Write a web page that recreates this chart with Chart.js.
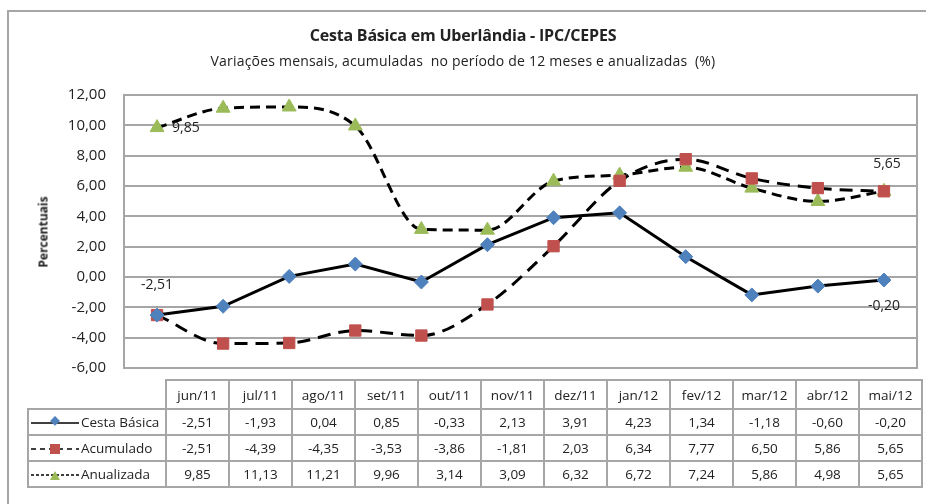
<!DOCTYPE html>
<html>
<head>
<meta charset="utf-8">
<script src="https://cdn.jsdelivr.net/npm/chart.js@4"></script>
<style>
  body { margin: 0; background: #fff; font-family: "Open Sans", sans-serif; color: #222; }
  #wrap { position: relative; width: 926px; height: 504px; overflow: hidden; }
  #frame { position: absolute; left: 7px; top: 10px; width: 940px; height: 520px; border: 2px solid #a6a6a6; box-sizing: border-box; }
  canvas { position: absolute; left: 0; top: 0; }
  .title { position: absolute; left: 0; width: 926px; text-align: center; }
  #t1 { top: 24px; font-size: 16px; font-weight: bold; letter-spacing: -0.2px; }
  #t2 { top: 51px; font-size: 14px; letter-spacing: 0.2px; }
  #ytitle { position: absolute; left: 43px; top: 232px; transform: translate(-50%, -50%) rotate(-90deg); font-size: 12px; font-weight: bold; white-space: nowrap; }
  table { position: absolute; left: 27px; top: 379px; border-collapse: collapse; font-size: 13.5px; }
  td { border: 2px solid #a6a6a6; text-align: center; height: 22px; padding: 0; width: 61px; }
  td.blank { border: none; width: 136px; }
  td.leg { width: 136px; text-align: left; white-space: nowrap; }
  td.leg svg { vertical-align: middle; }
</style>
</head>
<body>
<div id="wrap">
  <div id="frame"></div>
  <canvas id="c" width="926" height="504"></canvas>
  <div class="title" id="t1">Cesta Básica em Uberlândia - IPC/CEPES</div>
  <div class="title" id="t2">Variações mensais, acumuladas&nbsp; no período de 12 meses e anualizadas&nbsp; (%)</div>
  <div id="ytitle">Percentuais</div>
  <table id="tbl"></table>
</div>
<script>
const months = ['jun/11', 'jul/11', 'ago/11', 'set/11', 'out/11', 'nov/11', 'dez/11', 'jan/12', 'fev/12', 'mar/12', 'abr/12', 'mai/12'];
const cestaBasica = [-2.51, -1.93, 0.04, 0.85, -0.33, 2.13, 3.91, 4.23, 1.34, -1.18, -0.60, -0.20];
const acumulado = [-2.51, -4.39, -4.35, -3.53, -3.86, -1.81, 2.03, 6.34, 7.77, 6.50, 5.86, 5.65];
const anualizada = [9.85, 11.13, 11.21, 9.96, 3.14, 3.09, 6.32, 6.72, 7.24, 5.86, 4.98, 5.65];

const fmt = v => v.toFixed(2).replace('.', ',');

// labels shown on the plot: [dataset, index, dx, dy, align]
const pointLabels = [
    [2, 0, 15, 0, 'left'],
    [1, 0, 0, -30, 'center'],
    [2, 11, 3, -27, 'center'],
    [0, 11, 0, 26, 'center']
];

const frameAndLabels = {
    id: 'frameAndLabels',
    beforeDatasetsDraw(chart) {
        const a = chart.chartArea;
        const ctx = chart.ctx;
        ctx.save();
        ctx.strokeStyle = '#a6a6a6';
        ctx.lineWidth = 2;
        ctx.strokeRect(a.left, a.top, a.right - a.left, a.bottom - a.top);
        ctx.restore();
    },
    afterDatasetsDraw(chart) {
        const ctx = chart.ctx;
        ctx.save();
        ctx.font = '14px "Open Sans"';
        ctx.fillStyle = '#222';
        ctx.textBaseline = 'middle';
        pointLabels.forEach(([ds, i, dx, dy, align]) => {
            const p = chart.getDatasetMeta(ds).data[i];
            ctx.textAlign = align;
            ctx.fillText(fmt(chart.data.datasets[ds].data[i]), p.x + dx, p.y + dy);
        });
        ctx.restore();
    }
};

new Chart(document.getElementById('c'), {
    type: 'line',
    data: {
        labels: months,
        datasets: [
            {
                label: 'Cesta Básica',
                data: cestaBasica,
                borderColor: '#000',
                borderWidth: 3,
                pointStyle: 'rectRot',
                pointRadius: 7,
                pointBackgroundColor: '#4f81bd',
                pointBorderColor: '#4f81bd',
                pointBorderWidth: 1,
                tension: 0
            },
            {
                label: 'Acumulado',
                data: acumulado,
                borderColor: '#000',
                borderWidth: 3,
                borderDash: [13, 8],
                pointStyle: 'rect',
                pointRadius: 8,
                pointBackgroundColor: '#c0504d',
                pointBorderColor: '#c0504d',
                pointBorderWidth: 1,
                cubicInterpolationMode: 'monotone'
            },
            {
                label: 'Anualizada',
                data: anualizada,
                borderColor: '#000',
                borderWidth: 3,
                borderDash: [10, 6],
                pointStyle: 'triangle',
                pointRadius: 8,
                pointBackgroundColor: '#9bbb59',
                pointBorderColor: '#9bbb59',
                pointBorderWidth: 1,
                cubicInterpolationMode: 'monotone'
            }
        ]
    },
    options: {
        responsive: false,
        animation: false,
        layout: { padding: { left: 0, right: 7, top: 95, bottom: 136 } },
        plugins: { legend: { display: false }, tooltip: { enabled: false } },
        scales: {
            x: { display: false, offset: true },
            y: {
                min: -6,
                max: 12,
                afterFit: s => { s.width = 124; },
                border: { display: false },
                grid: { color: '#a6a6a6', lineWidth: 2, drawTicks: false },
                ticks: {
                    stepSize: 2,
                    padding: 18,
                    color: '#222',
                    font: { family: 'Open Sans', size: 15 },
                    callback: v => fmt(v)
                }
            }
        }
    },
    plugins: [frameAndLabels]
});

// data table below the plot
const legendIcons = [
    '<svg width="52" height="14"><line x1="2" y1="7" x2="50" y2="7" stroke="#000" stroke-width="1.5"/><rect x="21" y="2" width="7" height="7" fill="#4f81bd" transform="rotate(45 26 7)"/></svg>',
    '<svg width="52" height="14"><line x1="2" y1="7" x2="50" y2="7" stroke="#000" stroke-width="1.5" stroke-dasharray="5,4"/><rect x="21" y="2" width="10" height="10" fill="#c0504d"/></svg>',
    '<svg width="52" height="14"><line x1="2" y1="7" x2="50" y2="7" stroke="#000" stroke-width="1.5" stroke-dasharray="3,2"/><polygon points="21,12 31,12 26,3" fill="#9bbb59"/></svg>'
];
const rows = [['Cesta Básica', cestaBasica], ['Acumulado', acumulado], ['Anualizada', anualizada]];
let html = '<tr style="height:29px"><td class="blank"></td>' + months.map(m => `<td>${m}</td>`).join('') + '</tr>';
rows.forEach(([name, vals], k) => {
    html += `<tr style="height:26px"><td class="leg">${legendIcons[k]}${name}</td>` + vals.map(v => `<td>${fmt(v)}</td>`).join('') + '</tr>';
});
document.getElementById('tbl').innerHTML = html;
</script>
</body>
</html>
